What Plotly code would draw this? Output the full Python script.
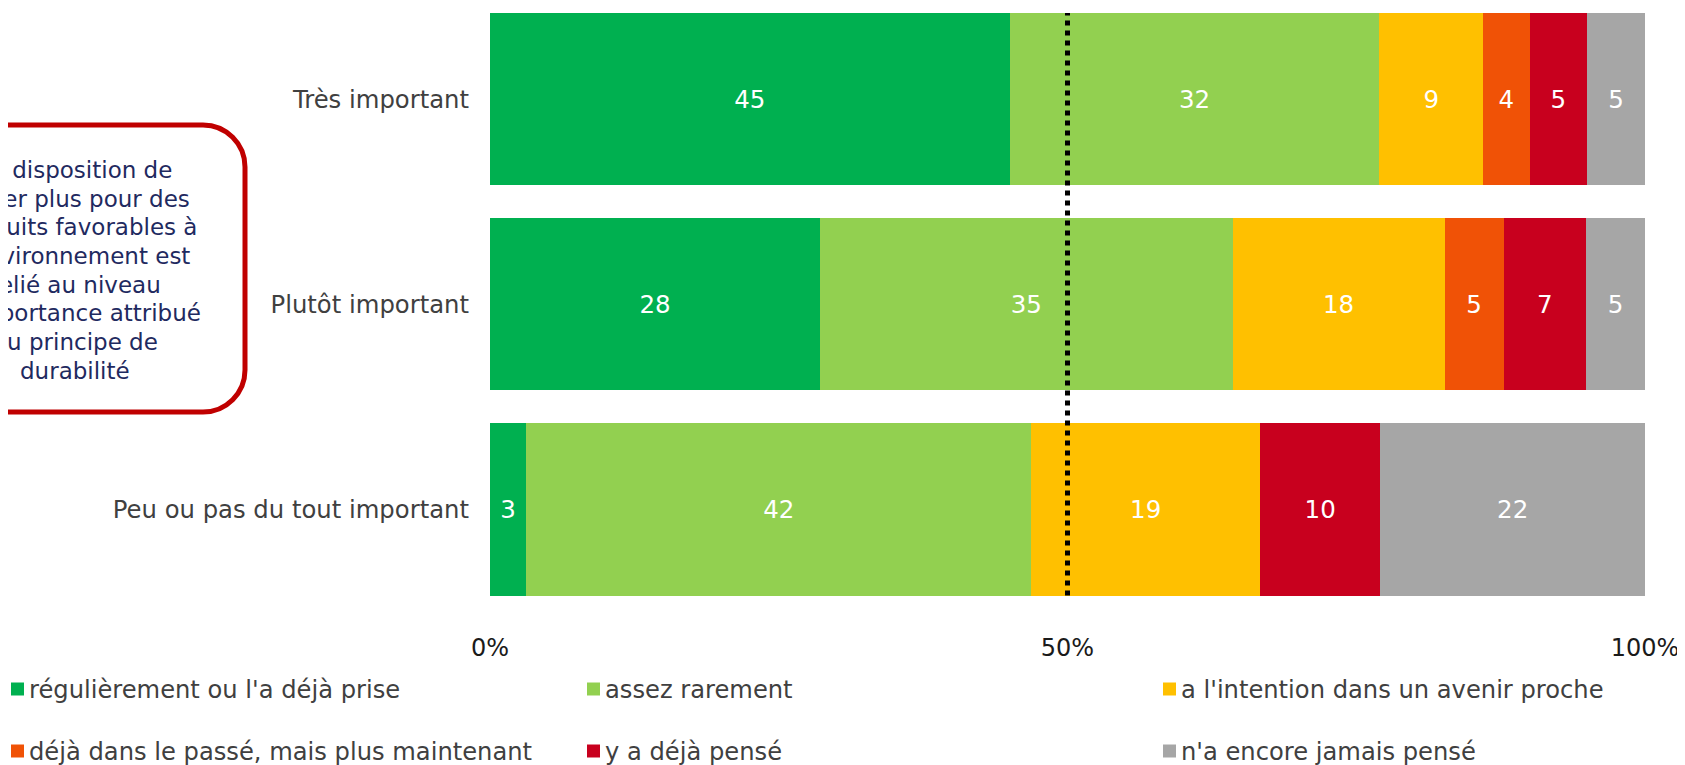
import plotly.graph_objects as go

# ---------------- data ----------------
categories = ["Peu ou pas du tout important", "Plutôt important", "Très important"]

series_names = [
    "régulièrement ou l'a déjà prise",
    "assez rarement",
    "a l'intention dans un avenir proche",
    "déjà dans le passé, mais plus maintenant",
    "y a déjà pensé",
    "n'a encore jamais pensé",
]
regulierement = [3, 28, 45]
assez_rarement = [42, 35, 32]
intention = [19, 18, 9]
passe = [0, 5, 4]
deja_pense = [10, 7, 5]
jamais_pense = [22, 5, 5]
series_values = [regulierement, assez_rarement, intention, passe, deja_pense, jamais_pense]

series_colors = ["#00B050", "#92D050", "#FFC000", "#F05206", "#C8001E", "#A6A6A6"]

x_tickvals = [0, 50, 100]
x_ticktext = ["0%", "50%", "100%"]
reference_line = 50

box_lines = [
    "La disposition de",
    "payer plus pour des",
    "produits favorables à",
    "l'environnement est",
    "relié au niveau",
    "d'importance attribué",
    "au principe de",
    "durabilité",
]

# ---------------- layout geometry (pixels, figure coordinates) ----------------
W, H = 1685, 765
ML, MR, MT, MB = 482, 48, 0, 161
PW, PH = W - ML - MR, H - MT - MB
FONT = "DejaVu Sans"

fig = go.Figure()
for i, (name, vals, col) in enumerate(zip(series_names, series_values, series_colors)):
    fig.add_trace(go.Bar(
        y=categories,
        x=vals,
        name=name,
        orientation="h",
        marker=dict(color=col, line=dict(width=0)),
        text=[str(v) if v else "" for v in vals],
        texttemplate="%{text}",
        textposition="inside",
        insidetextanchor="middle",
        textangle=0,
        constraintext="none",
        textfont=dict(family=FONT, size=24.5, color="white"),
        showlegend=False,
        hoverinfo="skip",
    ))

bargap = 0.16
half = (1 - bargap) / 2

fig.update_layout(
    width=W, height=H,
    margin=dict(l=ML, r=MR, t=MT, b=MB, pad=0, autoexpand=False),
    barmode="stack",
    barnorm="percent",
    bargap=bargap,
    plot_bgcolor="white",
    paper_bgcolor="white",
    font=dict(family=FONT),
    showlegend=False,
    xaxis=dict(
        range=[0, 100],
        tickvals=x_tickvals,
        ticktext=x_ticktext,
        showgrid=False, zeroline=False, showline=False,
        ticks="",
        ticklabelstandoff=19,
        tickfont=dict(family=FONT, size=24, color="#1a1a1a"),
        automargin=False,
        fixedrange=True,
    ),
    yaxis=dict(
        type="category",
        categoryorder="array",
        categoryarray=categories,
        range=[-0.5, 2.444],
        showgrid=False, zeroline=False, showline=False,
        ticks="",
        ticklabelstandoff=20,
        tickfont=dict(family=FONT, size=24.3, color="#404040"),
        automargin=False,
        fixedrange=True,
    ),
)

def px_to_paper_x(px):
    return (px - ML) / PW

def px_to_paper_y(py):
    return 1 - (py - MT) / PH

# dotted 50% reference line
fig.add_shape(
    type="line", xref="x", yref="y",
    x0=reference_line, x1=reference_line,
    y0=-half, y1=len(categories) - 1 + half,
    line=dict(color="black", width=5, dash="dot"),
    layer="above",
)

# legend (2 rows x 3 columns) below the chart
legend_cols_px = [3, 579, 1155]
legend_rows_px = [681, 743]
sq = 13
for i, (name, col) in enumerate(zip(series_names, series_colors)):
    lx = legend_cols_px[i % 3]
    ly = legend_rows_px[i // 3]
    fig.add_shape(
        type="rect", xref="paper", yref="paper",
        x0=px_to_paper_x(lx), x1=px_to_paper_x(lx + sq),
        y0=px_to_paper_y(ly - sq / 2), y1=px_to_paper_y(ly + sq / 2),
        fillcolor=col, line=dict(width=0), layer="above",
    )
    fig.add_annotation(
        xref="paper", yref="paper",
        x=px_to_paper_x(lx + sq + 3), y=px_to_paper_y(ly + 1),
        xanchor="left", yanchor="middle",
        text=name, showarrow=False, align="left",
        font=dict(family=FONT, size=24.2, color="#404040"),
    )

# rounded text box (partly outside the page on the left)
bx0, bx1, by0, by1, r = -93, 237, 117, 404, 42
k = 0.5523 * r
def P(x, y):
    return f"{px_to_paper_x(x):.5f},{px_to_paper_y(y):.5f}"

path = (
    f"M{P(bx0 + r, by0)} L{P(bx1 - r, by0)} "
    f"C{P(bx1 - r + k, by0)} {P(bx1, by0 + r - k)} {P(bx1, by0 + r)} "
    f"L{P(bx1, by1 - r)} "
    f"C{P(bx1, by1 - r + k)} {P(bx1 - r + k, by1)} {P(bx1 - r, by1)} "
    f"L{P(bx0 + r, by1)} "
    f"C{P(bx0 + r - k, by1)} {P(bx0, by1 - r + k)} {P(bx0, by1 - r)} "
    f"L{P(bx0, by0 + r)} "
    f"C{P(bx0, by0 + r - k)} {P(bx0 + r - k, by0)} {P(bx0 + r, by0)} Z"
)
fig.add_shape(
    type="path", xref="paper", yref="paper", path=path,
    line=dict(color="#C00000", width=5), fillcolor="white", layer="above",
)

text_cx = 67.5
first_line_y, line_step = 162, 28.7
for j, line in enumerate(box_lines):
    fig.add_annotation(
        xref="paper", yref="paper",
        x=px_to_paper_x(text_cx), y=px_to_paper_y(first_line_y + j * line_step),
        xanchor="center", yanchor="middle",
        text=line,
        showarrow=False, align="center",
        font=dict(family=FONT, size=23, color="#1F2A60"),
    )

fig.write_html("out.html")
